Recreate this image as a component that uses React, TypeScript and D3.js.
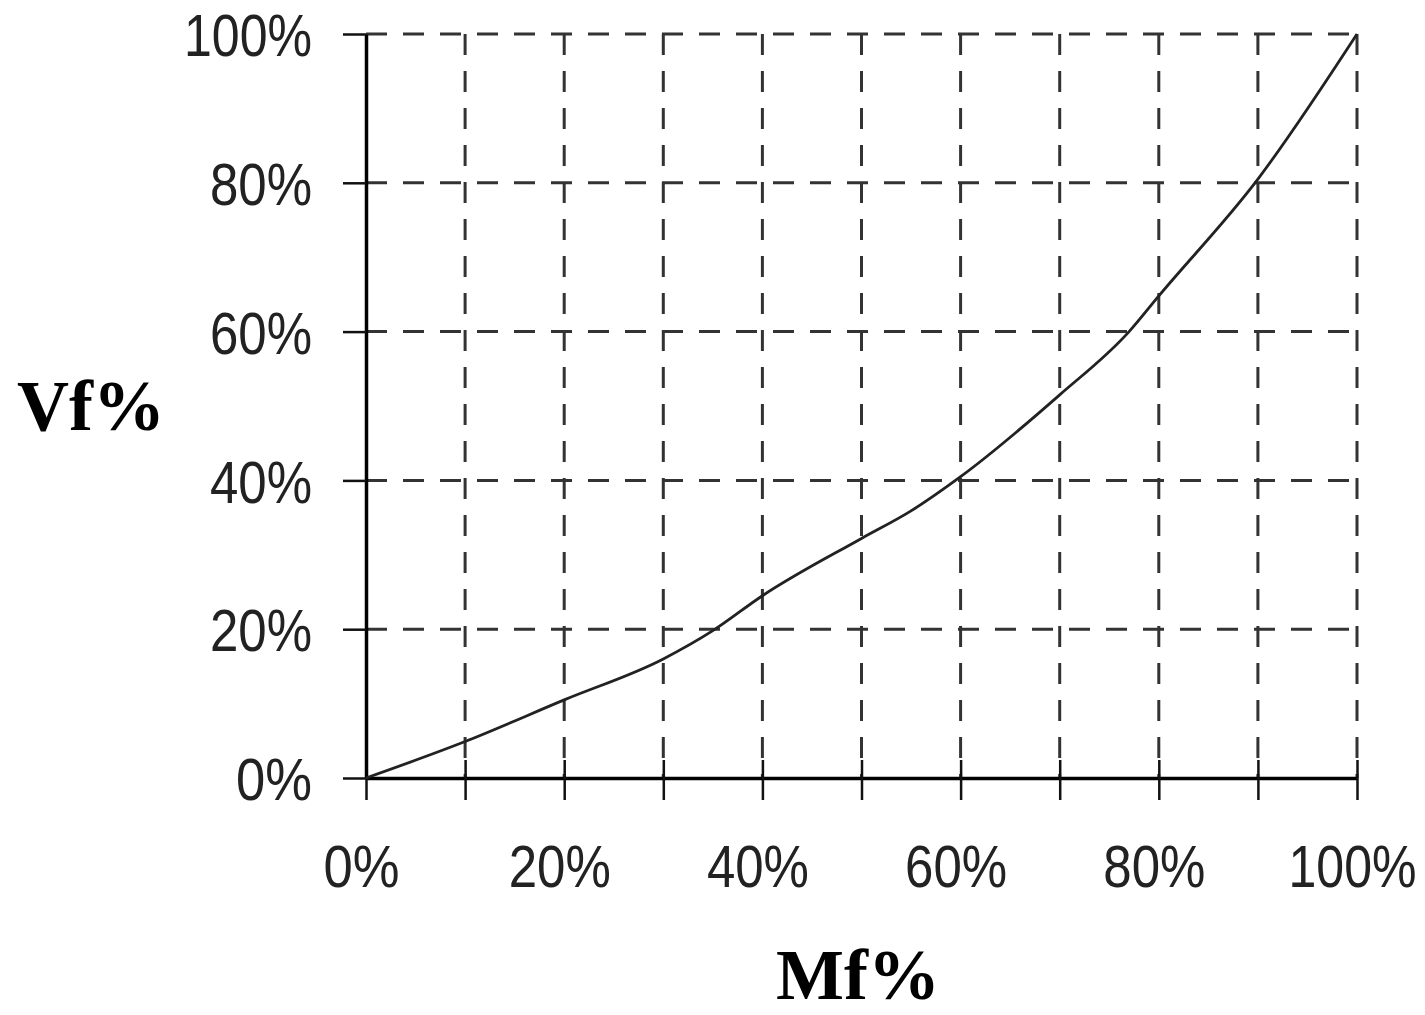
import React, { useEffect, useRef } from 'react';
import * as d3 from 'd3';

// Mf% (x) vs Vf% (y)
const mf = [0, 10, 20, 30, 35, 40, 50, 55, 60, 70, 77, 80, 90, 100];
const vf = [0, 4.9, 10.5, 16, 19.8, 24.5, 32.2, 35.9, 40.5, 51.5, 60, 64.8, 80.5, 100];

const xTicks = [0, 10, 20, 30, 40, 50, 60, 70, 80, 90, 100];
const yTicks = [0, 20, 40, 60, 80, 100];
const xTitle = 'Mf%';
const yTitle = 'Vf%';

const App = () => {
  const ref = useRef<SVGSVGElement>(null);

  useEffect(() => {
    const svg = d3.select(ref.current);
    const width = 1425;
    const height = 1015;
    const marginLeft = 366;
    const marginRight = 68;
    const marginTop = 34;
    const marginBottom = 237;

    svg.selectAll('*').remove();

    const x = d3.scaleLinear().domain([0, 100]).range([marginLeft, width - marginRight]);
    const y = d3.scaleLinear().domain([0, 100]).range([height - marginBottom, marginTop]);

    const labelLen = (s: string) => 26 * (s.length - 1) + 50;

    // dashed grid
    const grid = svg.append('g')
      .attr('stroke', '#333')
      .attr('stroke-width', 3)
      .attr('stroke-dasharray', '21,16');

    grid.selectAll('line.v')
      .data(xTicks.filter(d => d > 0))
      .join('line')
        .attr('class', 'v')
        .attr('x1', d => x(d)).attr('x2', d => x(d))
        .attr('y1', y(100)).attr('y2', y(0));

    grid.selectAll('line.h')
      .data(yTicks.filter(d => d > 0))
      .join('line')
        .attr('class', 'h')
        .attr('x1', x(0)).attr('x2', x(100))
        .attr('y1', d => y(d)).attr('y2', d => y(d));

    // x axis
    const gx = svg.append('g')
      .attr('transform', `translate(0,${y(0)})`)
      .call(d3.axisBottom(x)
        .tickValues(xTicks)
        .tickSizeInner(22)
        .tickSizeOuter(0)
        .tickFormat(d => (+d % 20 === 0 ? `${d}%` : '')));
    gx.attr('font-family', null);
    gx.select('.domain').attr('stroke', '#000').attr('stroke-width', 3.5);
    gx.selectAll('.tick line').attr('y1', -18).attr('stroke', '#111').attr('stroke-width', 2.5);
    gx.selectAll<SVGTextElement, number>('.tick text')
      .attr('x', -5)
      .attr('y', 109)
      .attr('dy', 0)
      .attr('fill', '#222')
      .style('font-family', '"Liberation Sans", Arial, sans-serif')
      .style('font-size', '60px')
      .attr('lengthAdjust', 'spacingAndGlyphs')
      .attr('textLength', function () { const t = this.textContent || ''; return t ? labelLen(t) : null; });

    // y axis
    const gy = svg.append('g')
      .attr('transform', `translate(${x(0)},0)`)
      .call(d3.axisLeft(y)
        .tickValues(yTicks)
        .tickSizeInner(23)
        .tickSizeOuter(0)
        .tickPadding(31)
        .tickFormat(d => `${d}%`));
    gy.attr('font-family', null);
    gy.select('.domain').attr('stroke', '#000').attr('stroke-width', 3.5);
    gy.selectAll('.tick line').attr('stroke', '#111').attr('stroke-width', 2.5);
    gy.selectAll<SVGTextElement, number>('.tick text')
      .attr('dy', '0.36em')
      .attr('fill', '#222')
      .style('font-family', '"Liberation Sans", Arial, sans-serif')
      .style('font-size', '60px')
      .attr('lengthAdjust', 'spacingAndGlyphs')
      .attr('textLength', function () { return labelLen(this.textContent || ''); });

    // curve
    const pts = mf.map((m, i) => [m, vf[i]] as [number, number]);
    svg.append('path')
      .datum(pts)
      .attr('fill', 'none')
      .attr('stroke', '#222')
      .attr('stroke-width', 2.8)
      .attr('d', d3.line<[number, number]>()
        .curve(d3.curveMonotoneX)
        .x(d => x(d[0]))
        .y(d => y(d[1])));

    // axis titles
    svg.append('text')
      .attr('x', 17)
      .attr('y', 430)
      .attr('font-family', '"Liberation Serif", "Times New Roman", serif')
      .attr('font-weight', 'bold')
      .attr('font-size', 72)
      .attr('fill', '#000')
      .text(yTitle);

    svg.append('text')
      .attr('x', 858)
      .attr('y', 999)
      .attr('text-anchor', 'middle')
      .attr('font-family', '"Liberation Serif", "Times New Roman", serif')
      .attr('font-weight', 'bold')
      .attr('font-size', 72)
      .attr('fill', '#000')
      .text(xTitle);
  }, []);

  return (
    <svg
      ref={ref}
      width={1425}
      height={1015}
      style={{ position: 'absolute', left: 0, top: 0, background: '#fff' }}
    />
  );
};

export default App;
